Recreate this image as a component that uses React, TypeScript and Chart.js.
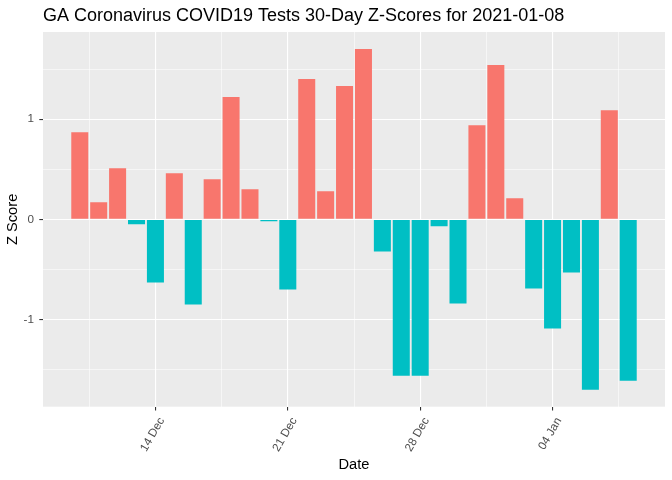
import React, { useEffect, useRef } from 'react';
import { Chart, registerables } from 'chart.js';

Chart.register(...registerables);

// ---- data ----
const dates = [
  '2020-12-10', '2020-12-11', '2020-12-12', '2020-12-13', '2020-12-14',
  '2020-12-15', '2020-12-16', '2020-12-17', '2020-12-18', '2020-12-19',
  '2020-12-20', '2020-12-21', '2020-12-22', '2020-12-23', '2020-12-24',
  '2020-12-25', '2020-12-26', '2020-12-27', '2020-12-28', '2020-12-29',
  '2020-12-30', '2020-12-31', '2021-01-01', '2021-01-02', '2021-01-03',
  '2021-01-04', '2021-01-05', '2021-01-06', '2021-01-07', '2021-01-08',
];
const zScores = [
  0.87, 0.17, 0.51, -0.05, -0.63,
  0.46, -0.85, 0.40, 1.22, 0.30,
  -0.02, -0.70, 1.40, 0.28, 1.33,
  1.70, -0.32, -1.56, -1.56, -0.07,
  -0.84, 0.94, 1.54, 0.21, -0.69,
  -1.09, -0.53, -1.70, 1.09, -1.61,
];
const xTickDates = ['2020-12-14', '2020-12-21', '2020-12-28', '2021-01-04'];
const xTickLabels = ['14 Dec', '21 Dec', '28 Dec', '04 Jan'];
const yTickValues = [-1, 0, 1];
const yTickLabels = ['-1', '0', '1'];

const titleText = 'GA Coronavirus COVID19 Tests 30-Day Z-Scores for 2021-01-08';
const xTitle = 'Date';
const yTitle = 'Z Score';

const RED = '#F8766D';
const TEAL = '#00BFC4';
const PANEL = '#EBEBEB';
const FONT = "'Liberation Sans', Arial, sans-serif";

function dayNum(s: string): number {
  const [y, m, d] = s.split('-').map(Number);
  return Date.UTC(y, m - 1, d) / 86400000;
}

export default function App() {
  const ref = useRef<HTMLCanvasElement | null>(null);

  useEffect(() => {
    if (!ref.current) return;
    const xs = dates.map(dayNum);
    const points = xs.map((x, i) => ({ x, y: zScores[i] }));

    // ggplot-like expansion
    const barHalf = 0.45;
    const xLo = Math.min(...xs) - barHalf;
    const xHi = Math.max(...xs) + barHalf;
    const xPad = (xHi - xLo) * 0.05;
    const yLo = Math.min(0, ...zScores);
    const yHi = Math.max(0, ...zScores);
    const yPad = (yHi - yLo) * 0.05;

    const xMajor = xTickDates.map(dayNum);
    const xMajorMap = new Map<number, string>();
    xMajor.forEach((v, i) => xMajorMap.set(v, xTickLabels[i]));
    const xMinor = [...xMajor.map((v) => v - 3.5), xMajor[xMajor.length - 1] + 3.5];
    const xAll = [...xMinor, ...xMajor].sort((a, b) => a - b)
      .filter((v) => v >= xLo - xPad && v <= xHi + xPad);

    const yMajorMap = new Map<number, string>();
    yTickValues.forEach((v, i) => yMajorMap.set(v, yTickLabels[i]));
    const yMinor = [...yTickValues.map((v) => v - 0.5), yTickValues[yTickValues.length - 1] + 0.5];
    const yAll = [...yMinor, ...yTickValues].sort((a, b) => a - b)
      .filter((v) => v >= yLo - yPad && v <= yHi + yPad);

    const panelBg = {
      id: 'panelBg',
      beforeDraw(chart: any) {
        const { ctx, chartArea } = chart;
        ctx.save();
        ctx.fillStyle = PANEL;
        ctx.fillRect(chartArea.left, chartArea.top, chartArea.right - chartArea.left, chartArea.bottom - chartArea.top);
        ctx.restore();
      },
    };

    const chart = new Chart(ref.current, {
      type: 'bar',
      data: {
        datasets: [
          {
            data: points as any,
            backgroundColor: (c: any) => (c.raw && c.raw.y > 0 ? RED : TEAL),
            borderWidth: 0,
            barPercentage: 0.9,
            categoryPercentage: 1.0,
          },
        ],
      },
      options: {
        responsive: false,
        animation: false,
        layout: { padding: { left: 0, top: 0, right: 7, bottom: 0 } },
        plugins: {
          legend: { display: false },
          tooltip: { enabled: false },
          title: {
            display: true,
            text: titleText,
            align: 'start',
            fullSize: false,
            color: '#000000',
            font: { family: FONT, size: 18, weight: 'normal', lineHeight: 1.2 },
            padding: { top: 4.9, bottom: 5.5 },
          },
        },
        scales: {
          x: {
            type: 'linear',
            min: xLo - xPad,
            max: xHi + xPad,
            offset: false,
            border: { display: false },
            grid: {
              offset: false,
              color: '#FFFFFF',
              lineWidth: (c: any) => (c.tick && xMajorMap.has(c.tick.value) ? 1.1 : 0.55),
              drawTicks: true,
              tickLength: 3.7,
              tickWidth: 1.1,
              tickColor: (c: any) => (c.tick && xMajorMap.has(c.tick.value) ? '#333333' : 'rgba(0,0,0,0)'),
            },
            afterBuildTicks: (scale: any) => {
              scale.ticks = xAll.map((v) => ({ value: v }));
            },
            afterFit: (scale: any) => {
              scale.height = 73.3;
            },
            ticks: {
              autoSkip: false,
              maxRotation: 60,
              minRotation: 60,
              padding: 4.6,
              labelOffset: 6.5,
              color: '#4D4D4D',
              font: { family: FONT, size: 11.7 },
              callback: (v: any) => xMajorMap.get(Number(v)) ?? '',
            },
            title: {
              display: true,
              text: xTitle,
              color: '#000000',
              font: { family: FONT, size: 14.67, lineHeight: 1.2 },
              padding: { top: 0, bottom: 6.7 },
            },
          },
          y: {
            type: 'linear',
            min: yLo - yPad,
            max: yHi + yPad,
            border: { display: false },
            grid: {
              color: '#FFFFFF',
              lineWidth: (c: any) => (c.tick && yMajorMap.has(c.tick.value) ? 1.1 : 0.55),
              drawTicks: true,
              tickLength: 3.7,
              tickWidth: 1.1,
              tickColor: (c: any) => (c.tick && yMajorMap.has(c.tick.value) ? '#333333' : 'rgba(0,0,0,0)'),
            },
            afterBuildTicks: (scale: any) => {
              scale.ticks = yAll.map((v) => ({ value: v }));
            },
            afterFit: (scale: any) => {
              scale.width = 43;
            },
            ticks: {
              autoSkip: false,
              padding: 5.3,
              color: '#4D4D4D',
              font: { family: FONT, size: 11.7 },
              callback: (v: any) => yMajorMap.get(Number(v)) ?? '',
            },
            title: {
              display: true,
              text: yTitle,
              color: '#000000',
              font: { family: FONT, size: 14.67, lineHeight: 1.2 },
              padding: { top: 4.5, bottom: 0 },
            },
          },
        },
      },
      plugins: [panelBg],
    });

    return () => {
      chart.destroy();
    };
  }, []);

  return (
    <div style={{ position: 'absolute', left: 0, top: 0, width: 672, height: 480, background: '#FFFFFF' }}>
      <canvas ref={ref} width={672} height={480} style={{ display: 'block', width: 672, height: 480 }} />
    </div>
  );
}
